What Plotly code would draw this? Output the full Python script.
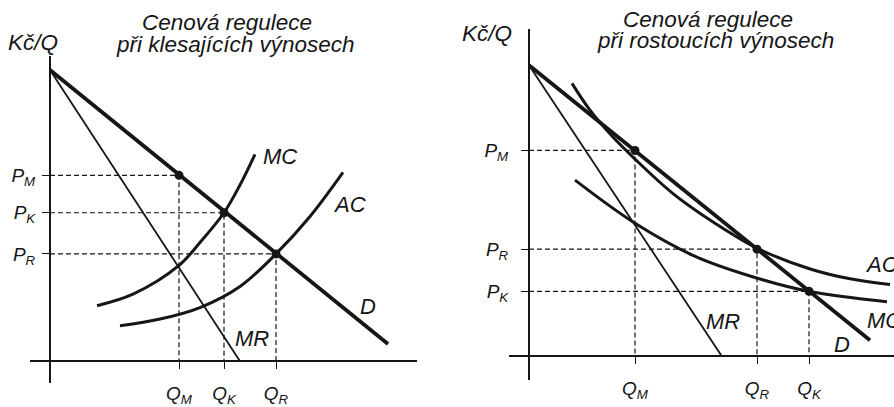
import plotly.graph_objects as go

W, H = 894, 407

# ---------------- data: left panel (klesající výnosy) ----------------
L_D_Q = [0.0, 33.8]
L_D_P = [30.4, 1.8]
L_MR_Q = [0.0, 19.0]
L_MR_P = [30.4, 0.0]
L_MC_Q = [4.7, 8.3, 12.9, 15.0, 17.4, 19.0, 20.5]
L_MC_P = [5.8, 7.0, 10.0, 12.4, 15.5, 18.4, 21.6]
L_AC_Q = [7.0, 11.0, 15.0, 19.0, 22.6, 26.0, 29.3]
L_AC_P = [3.7, 4.4, 5.6, 7.8, 11.2, 15.1, 19.7]
L_PT_NAMES = ["M", "K", "R"]
L_PT_Q = [12.9, 17.4, 22.6]
L_PT_P = [19.4, 15.5, 11.2]

# ---------------- data: right panel (rostoucí výnosy) ----------------
R_D_Q = [0.0, 34.1]
R_D_P = [30.4, 1.7]
R_MR_Q = [0.0, 19.3]
R_MR_P = [30.4, 0.0]
R_AC_Q = [4.3, 6.1, 8.3, 10.6, 14.4, 18.6, 22.8, 28.2, 32.1, 36.1]
R_AC_P = [28.5, 25.7, 23.0, 20.6, 17.0, 13.9, 11.3, 9.1, 8.1, 7.5]
R_MC_Q = [4.6, 10.6, 16.5, 22.1, 28.0, 35.8]
R_MC_P = [18.4, 13.9, 10.5, 8.4, 6.8, 5.7]
R_PT_NAMES = ["M", "R", "K"]
R_PT_Q = [10.6, 22.8, 28.0]
R_PT_P = [21.5, 11.2, 6.8]

TITLE_1 = "Cenová regulece"
TITLE_L2 = "při klesajících výnosech"
TITLE_R2 = "při rostoucích výnosech"
Y_NAME = "Kč/Q"
X_NAME = "Q"

INK = "#161616"
FONT = "Liberation Sans"

fig = go.Figure()


def add_panel(xa, ya, D_Q, D_P, MR_Q, MR_P, MC_Q, MC_P, AC_Q, AC_P, PT_Q, PT_P):
    # dashed guide lines from the marked points to both axes
    for q, p in zip(PT_Q, PT_P):
        fig.add_trace(go.Scatter(x=[0, q, q], y=[p, p, 0], mode="lines",
                                 line=dict(color=INK, width=1.2, dash="5px,3px"),
                                 xaxis=xa, yaxis=ya, hoverinfo="skip", showlegend=False))
    fig.add_trace(go.Scatter(x=MR_Q, y=MR_P, mode="lines", line=dict(color=INK, width=1.8),
                             xaxis=xa, yaxis=ya, showlegend=False))
    fig.add_trace(go.Scatter(x=MC_Q, y=MC_P, mode="lines", line=dict(color=INK, width=3, shape="spline"),
                             xaxis=xa, yaxis=ya, showlegend=False))
    fig.add_trace(go.Scatter(x=AC_Q, y=AC_P, mode="lines", line=dict(color=INK, width=3, shape="spline"),
                             xaxis=xa, yaxis=ya, showlegend=False))
    fig.add_trace(go.Scatter(x=D_Q, y=D_P, mode="lines", line=dict(color=INK, width=3.8),
                             xaxis=xa, yaxis=ya, showlegend=False))
    fig.add_trace(go.Scatter(x=PT_Q, y=PT_P, mode="markers", marker=dict(color=INK, size=9),
                             xaxis=xa, yaxis=ya, showlegend=False))


add_panel("x", "y", L_D_Q, L_D_P, L_MR_Q, L_MR_P, L_MC_Q, L_MC_P, L_AC_Q, L_AC_P, L_PT_Q, L_PT_P)
add_panel("x2", "y2", R_D_Q, R_D_P, R_MR_Q, R_MR_P, R_MC_Q, R_MC_P, R_AC_Q, R_AC_P, R_PT_Q, R_PT_P)

tickfont = dict(family=FONT, size=19, color=INK)
axis_common = dict(showgrid=False, zeroline=False, showline=True, linecolor=INK, linewidth=2,
                   ticks="outside", ticklen=7, tickwidth=1.4, tickcolor=INK,
                   tickfont=tickfont, fixedrange=True)


def sub_labels(letter, names):
    return [f"<i>{letter}<sub>{n}</sub></i>" for n in names]


fig.update_layout(
    width=W, height=H, margin=dict(l=0, r=0, t=0, b=0),
    paper_bgcolor="white", plot_bgcolor="rgba(0,0,0,0)",
    showlegend=False,
    xaxis=dict(domain=[30 / W, 417 / W], range=[-2.0, 36.7], anchor="free", position=1 - 377 / H,
               tickvals=L_PT_Q, ticktext=sub_labels("Q", L_PT_NAMES), ticklabelstandoff=8,
               **axis_common),
    yaxis=dict(domain=[1 - 400 / H, 1 - 58 / H], range=[-2.3, 31.9], anchor="free", position=50 / W,
               tickvals=L_PT_P, ticktext=sub_labels("P", L_PT_NAMES), ticklabelstandoff=3,
               **axis_common),
    xaxis2=dict(domain=[509 / W, 1.0], range=[-2.0, 36.5], anchor="free", position=1 - 372 / H,
                tickvals=R_PT_Q, ticktext=sub_labels("Q", R_PT_NAMES), ticklabelstandoff=8,
                **axis_common),
    yaxis2=dict(domain=[1 - 397 / H, 1 - 30 / H], range=[-2.5, 34.2], anchor="free", position=529 / W,
                tickvals=R_PT_P, ticktext=sub_labels("P", R_PT_NAMES), ticklabelstandoff=9,
                **axis_common),
)

big = dict(family=FONT, size=22, color=INK)


def ann_paper(text, px, py, xanchor="center", size=22.5):
    fig.add_annotation(text=f"<i>{text}</i>", x=px / W, y=1 - py / H, xref="paper", yref="paper",
                       xanchor=xanchor, yanchor="middle", showarrow=False,
                       font=dict(family=FONT, size=size, color=INK))


def ann_data(text, q, p, xa, ya, xanchor="center"):
    fig.add_annotation(text=f"<i>{text}</i>", x=q, y=p, xref=xa, yref=ya,
                       xanchor=xanchor, yanchor="middle", showarrow=False, font=big)


# titles and axis names
ann_paper(TITLE_1, 227, 24)
ann_paper(TITLE_L2, 235, 46)
ann_paper(TITLE_1, 708, 20)
ann_paper(TITLE_R2, 715, 42)
ann_paper(Y_NAME, 33, 44)
ann_paper(Y_NAME, 487, 35)

# left curve labels
ann_data("MC", 23.0, 21.4, "x", "y")
ann_data("AC", 29.9, 16.4, "x", "y")
ann_data("D", 31.8, 5.7, "x", "y")
ann_data("MR", 20.2, 2.4, "x", "y")
ann_data(X_NAME, 35.3, -2.9, "x", "y")

# right curve labels
ann_data("AC", 33.4, 9.6, "x2", "y2", xanchor="left")
ann_data("MC", 33.6, 3.8, "x2", "y2", xanchor="left")
ann_data("MR", 19.4, 3.6, "x2", "y2")
ann_data("D", 31.3, 1.2, "x2", "y2")
ann_data(X_NAME, 35.3, -3.1, "x2", "y2")

fig.write_html("out.html", config={"displayModeBar": False},
               post_script="document.body.style.margin='0';document.body.style.overflow='hidden';")
